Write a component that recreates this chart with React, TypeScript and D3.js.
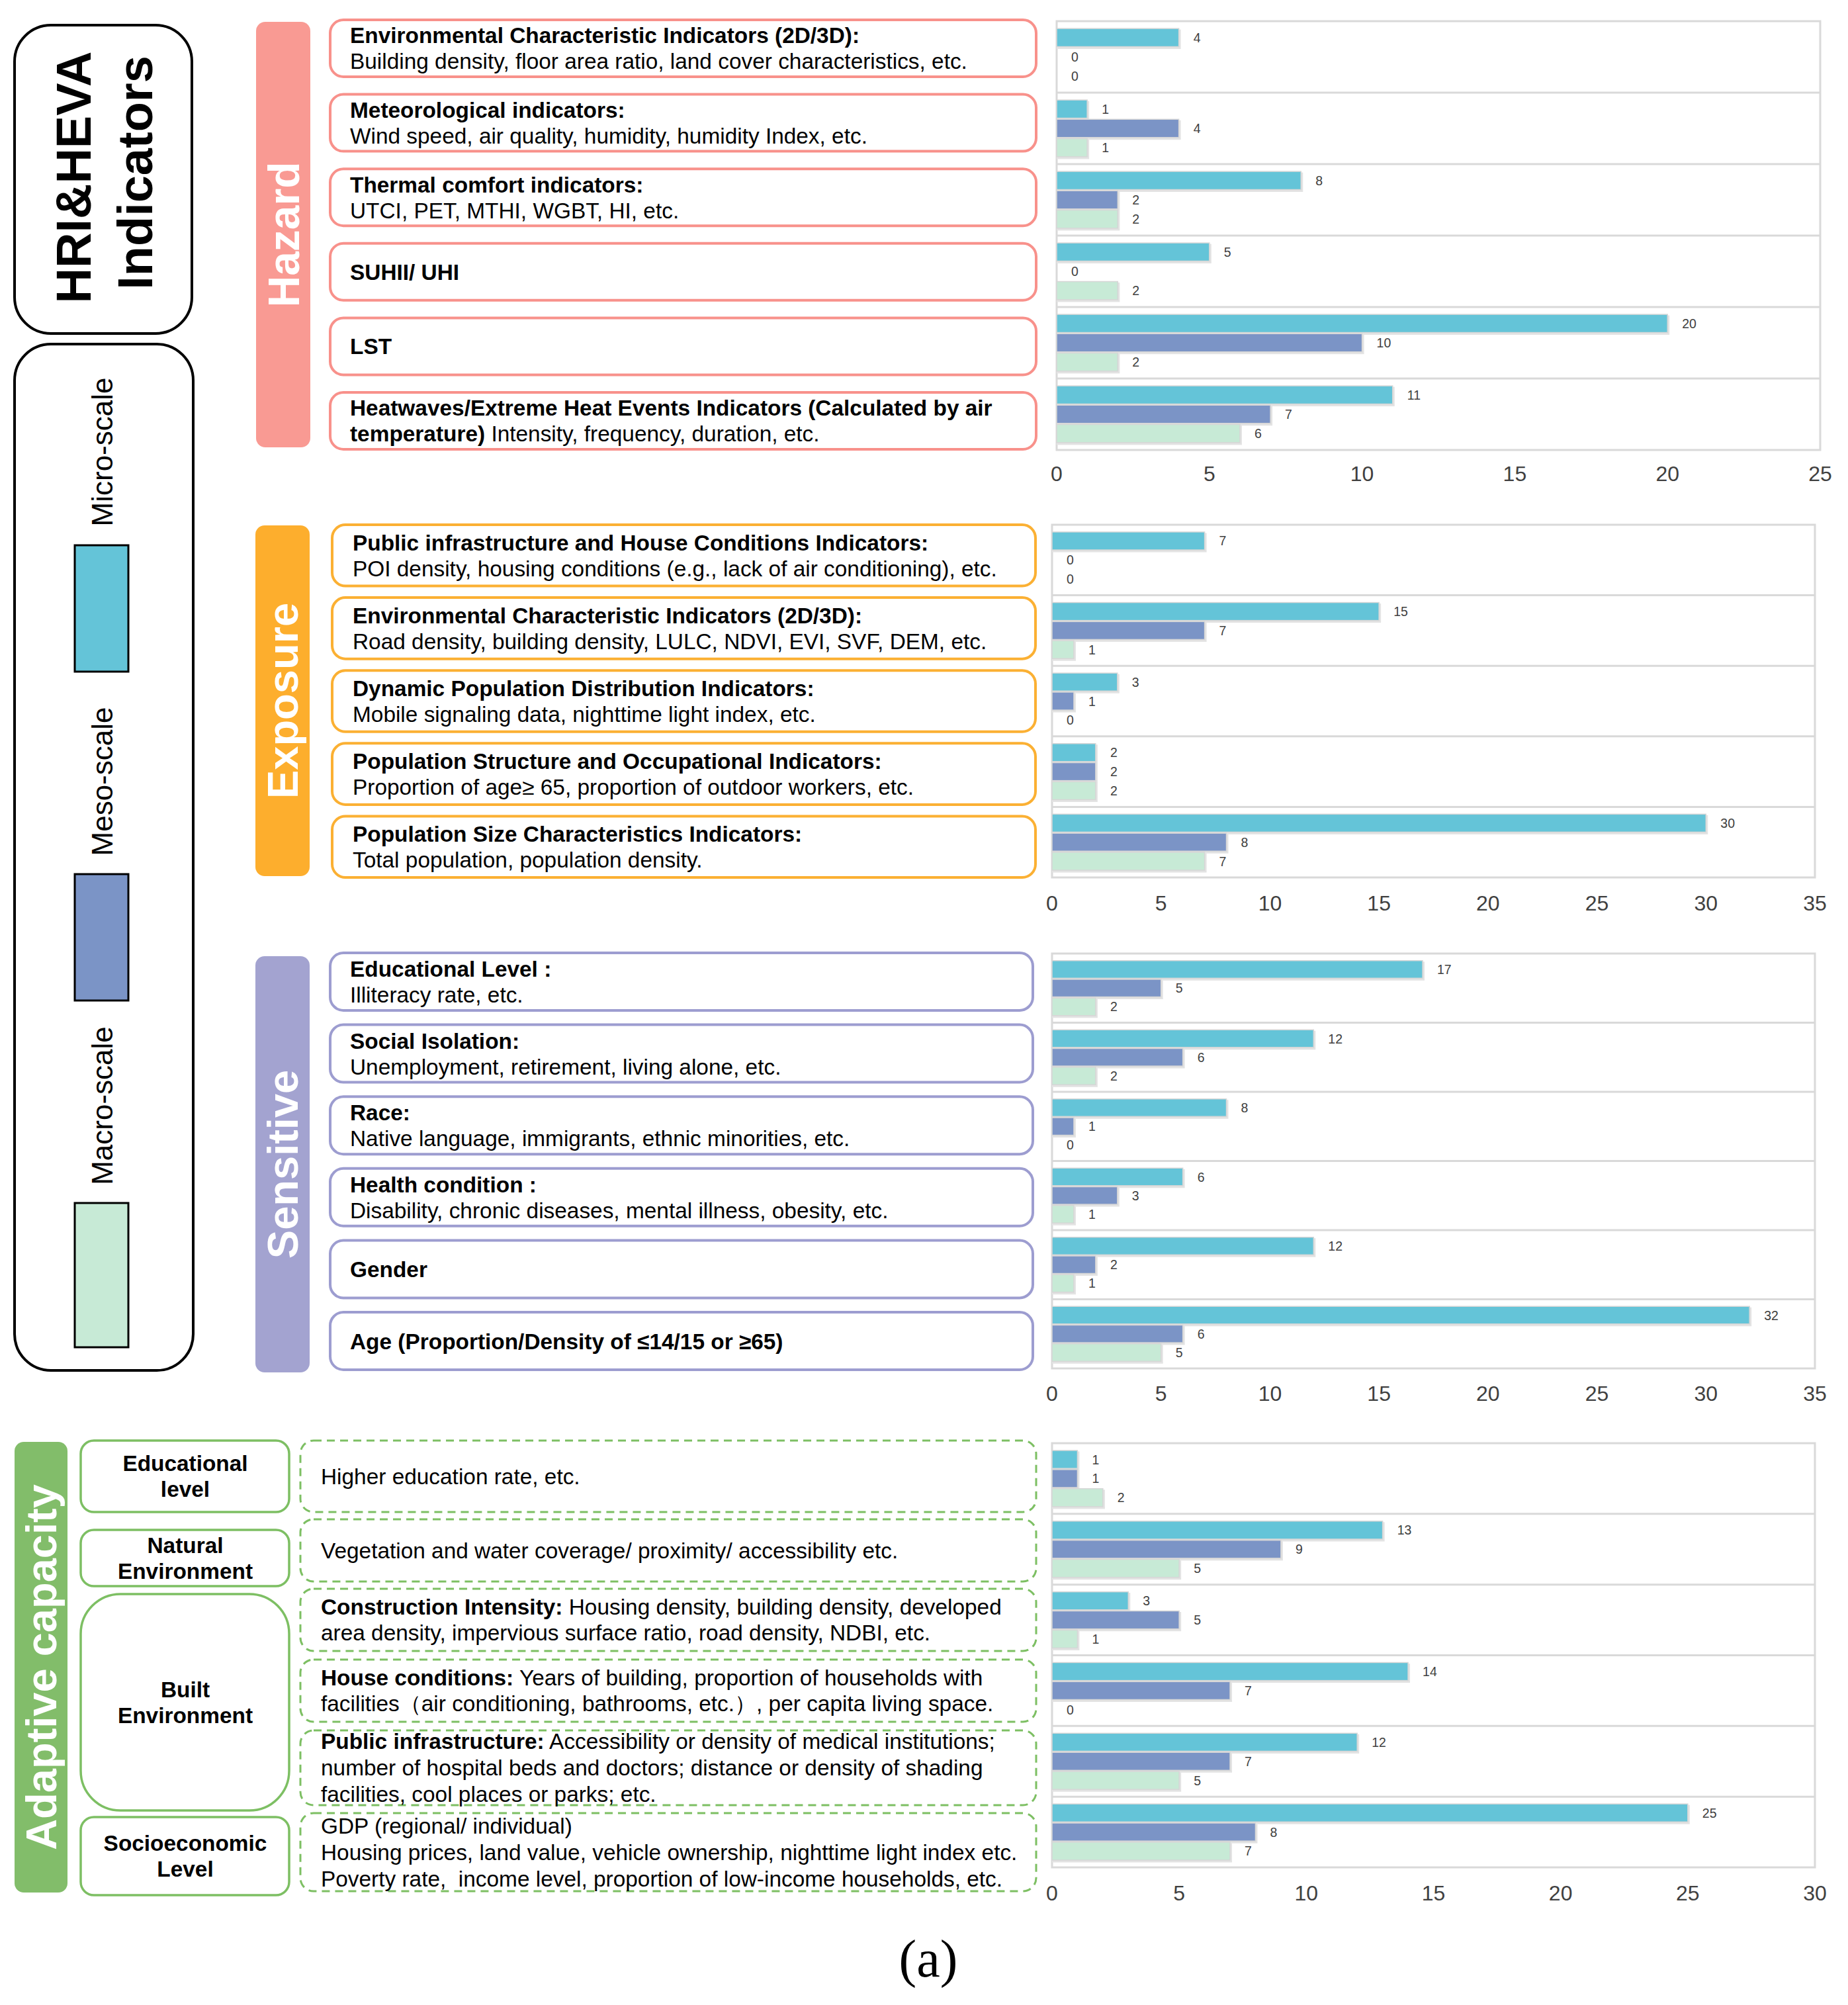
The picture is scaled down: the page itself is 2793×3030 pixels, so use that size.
import React from "react";
import * as d3 from "d3";

// ---------------- DATA ----------------
const seriesNames = ["Micro-scale", "Meso-scale", "Macro-scale"];
const seriesColors = ["#64C4D8", "#7B94C6", "#C7EAD6"];

const hazardMicro = [4, 1, 8, 5, 20, 11];
const hazardMeso = [0, 4, 2, 0, 10, 7];
const hazardMacro = [0, 1, 2, 2, 2, 6];

const exposureMicro = [7, 15, 3, 2, 30];
const exposureMeso = [0, 7, 1, 2, 8];
const exposureMacro = [0, 1, 0, 2, 7];

const sensitiveMicro = [17, 12, 8, 6, 12, 32];
const sensitiveMeso = [5, 6, 1, 3, 2, 6];
const sensitiveMacro = [2, 2, 0, 1, 1, 5];

const adaptiveMicro = [1, 13, 3, 14, 12, 25];
const adaptiveMeso = [1, 9, 5, 7, 7, 8];
const adaptiveMacro = [2, 5, 1, 0, 5, 7];

const hazardMax = 25;
const exposureMax = 35;
const sensitiveMax = 35;
const adaptiveMax = 30;

type Seg = [string, boolean];
type Line = Seg[];

const hazardTexts: Line[][] = [
  [[["Environmental Characteristic Indicators (2D/3D):", true]], [["Building density, floor area ratio, land cover characteristics, etc.", false]]],
  [[["Meteorological indicators:", true]], [["Wind speed, air quality, humidity, humidity Index, etc.", false]]],
  [[["Thermal comfort indicators:", true]], [["UTCI, PET, MTHI, WGBT, HI, etc.", false]]],
  [[["SUHII/ UHI", true]]],
  [[["LST", true]]],
  [[["Heatwaves/Extreme Heat Events Indicators (Calculated by air", true]], [["temperature)", true], [" Intensity, frequency, duration, etc.", false]]],
];

const exposureTexts: Line[][] = [
  [[["Public infrastructure and House Conditions Indicators:", true]], [["POI density, housing conditions (e.g., lack of air conditioning), etc.", false]]],
  [[["Environmental Characteristic Indicators (2D/3D):", true]], [["Road density, building density, LULC, NDVI, EVI, SVF, DEM, etc.", false]]],
  [[["Dynamic Population Distribution Indicators:", true]], [["Mobile signaling data, nighttime light index, etc.", false]]],
  [[["Population Structure and Occupational Indicators:", true]], [["Proportion of age\u2265 65, proportion of outdoor workers, etc.", false]]],
  [[["Population Size Characteristics Indicators:", true]], [["Total population, population density.", false]]],
];

const sensitiveTexts: Line[][] = [
  [[["Educational Level :", true]], [["Illiteracy rate, etc.", false]]],
  [[["Social Isolation:", true]], [["Unemployment, retirement, living alone, etc.", false]]],
  [[["Race:", true]], [["Native language, immigrants, ethnic minorities, etc.", false]]],
  [[["Health condition :", true]], [["Disability, chronic diseases, mental illness, obesity, etc.", false]]],
  [[["Gender", true]]],
  [[["Age (Proportion/Density of \u226414/15 or \u226565)", true]]],
];

const adaptiveCategories = [
  ["Educational", "level"],
  ["Natural", "Environment"],
  ["Built", "Environment"],
  ["Socioeconomic", "Level"],
];

const adaptiveTexts: Line[][] = [
  [[["Higher education rate, etc.", false]]],
  [[["Vegetation and water coverage/ proximity/ accessibility etc.", false]]],
  [[["Construction Intensity:", true], [" Housing density, building density, developed", false]], [["area density, impervious surface ratio, road density, NDBI, etc.", false]]],
  [[["House conditions:", true], [" Years of building, proportion of households with", false]], [["facilities\uFF08air conditioning, bathrooms, etc.\uFF09, per capita living space.", false]]],
  [[["Public infrastructure:", true], [" Accessibility or density of medical institutions;", false]], [["number of hospital beds and doctors; distance or density of shading", false]], [["facilities, cool places or parks; etc.", false]]],
  [[["GDP (regional/ individual)", false]], [["Housing prices, land value, vehicle ownership, nighttime light index etc.", false]], [["Poverty rate,  income level, proportion of low-income households, etc.", false]]],
];

// ---------------- LAYOUT ----------------
const FONT = "'Liberation Sans', Arial, Helvetica, sans-serif";
const TXT = 33.4;
const CAP = 0.716;

const hazardColor = "#F99A93";
const hazardStroke = "#F8918B";
const exposureColor = "#FDAE2D";
const exposureStroke = "#FBB033";
const sensitiveColor = "#A3A3D0";
const sensitiveStroke = "#9D9DD0";
const adaptiveColor = "#82BD6A";
const adaptiveStroke = "#7DBF63";

const adaptiveCatBoxes = [
  [2177, 2285],
  [2312, 2397],
  [2409, 2736],
  [2746, 2864],
];
const adaptiveDashBoxes = [
  [2177, 2285],
  [2296, 2390],
  [2401, 2495],
  [2508, 2602],
  [2615, 2728],
  [2740, 2858],
];

function BoxText({ lines, x, cy, spacing = 39, anchor = "start" }: { lines: Line[]; x: number; cy: number; spacing?: number; anchor?: string }) {
  const cap = CAP * TXT;
  const block = cap + (lines.length - 1) * spacing;
  const first = cy - block / 2 + cap;
  return (
    <g>
      {lines.map((ln, i) => (
        <text key={i} x={x} y={first + i * spacing} fontFamily={FONT} fontSize={TXT} fill="#000" textAnchor={anchor as any} style={{ whiteSpace: "pre" }}>
          {ln.map((s, j) => (
            <tspan key={j} fontWeight={s[1] ? "bold" : "normal"}>{s[0]}</tspan>
          ))}
        </text>
      ))}
    </g>
  );
}

function SectionBar({ x0, x1, y0, y1, color, label, fs }: { x0: number; x1: number; y0: number; y1: number; color: string; label: string; fs: number }) {
  const cx = (x0 + x1) / 2;
  const cy = (y0 + y1) / 2;
  return (
    <g>
      <rect x={x0} y={y0} width={x1 - x0} height={y1 - y0} rx={14} fill={color} />
      <text transform={`translate(${cx + (CAP * fs) / 2},${cy}) rotate(-90)`} textAnchor="middle" fontFamily={FONT} fontWeight="bold" fontSize={fs} fill="#fff">
        {label}
      </text>
    </g>
  );
}

function IndicatorBoxes({ texts, x0, x1, y0, y1, pad, stroke, textX }: { texts: Line[][]; x0: number; x1: number; y0: number; y1: number; pad: number; stroke: string; textX: number }) {
  const band = d3.scaleBand<number>().domain(d3.range(texts.length)).range([y0, y1]).paddingInner(pad);
  return (
    <g>
      {texts.map((t, i) => {
        const by = band(i)!;
        const bh = band.bandwidth();
        return (
          <g key={i}>
            <rect x={x0} y={by} width={x1 - x0} height={bh} rx={20} fill="#fff" stroke={stroke} strokeWidth={4} />
            <BoxText lines={t} x={textX} cy={by + bh / 2} />
          </g>
        );
      })}
    </g>
  );
}

function BarChart({ x0, x1, y0, y1, max, micro, meso, macro, tickY }: { x0: number; x1: number; y0: number; y1: number; max: number; micro: number[]; meso: number[]; macro: number[]; tickY: number }) {
  const x = d3.scaleLinear().domain([0, max]).range([x0, x1]);
  const n = micro.length;
  const rows = d3.scaleBand<number>().domain(d3.range(n)).range([y0, y1]);
  const inner = d3.scaleBand<number>().domain([0, 1, 2]).range([0, rows.bandwidth()]).paddingInner(0.06).paddingOuter(0.38);
  const series = [micro, meso, macro];
  const ticks = d3.range(0, max + 1, 5);
  return (
    <g>
      <rect x={x0} y={y0} width={x1 - x0} height={y1 - y0} fill="#fff" stroke="#d9d9d9" strokeWidth={3} />
      {d3.range(1, n).map((i) => (
        <line key={i} x1={x0} x2={x1} y1={rows(i)!} y2={rows(i)!} stroke="#d9d9d9" strokeWidth={3} />
      ))}
      {d3.range(n).map((i) => (
        <g key={i}>
          {series.map((s, k) => {
            const v = s[i];
            const by = rows(i)! + inner(k)!;
            const bh = inner.bandwidth();
            return (
              <g key={k}>
                {v > 0 && (
                  <>
                    <rect x={x(0)} y={by + 1.5} width={x(v) - x(0) + 3} height={bh + 2} fill="#e3e3e3" />
                    <rect x={x(0)} y={by} width={x(v) - x(0)} height={bh} fill={seriesColors[k]} stroke="#d6d6d6" strokeWidth={1.5} />
                  </>
                )}
                <text x={x(v) + 22} y={by + bh / 2 + 7} fontFamily={FONT} fontSize={19.5} fill="#404040">
                  {v}
                </text>
              </g>
            );
          })}
        </g>
      ))}
      {ticks.map((t) => (
        <text key={t} x={x(t)} y={tickY + 11.5} textAnchor="middle" fontFamily={FONT} fontSize={32} fill="#404040">
          {t}
        </text>
      ))}
    </g>
  );
}

export default function App() {
  const legendSquares = [
    [824, 1015],
    [1321, 1512],
    [1818, 2036],
  ];
  const legendLabelCy = [683, 1181, 1671];
  return (
    <svg width={2793} height={3030} viewBox="0 0 2793 3030" style={{ position: "absolute", left: 0, top: 0, display: "block", background: "#fff" }}>
      <rect x={0} y={0} width={2793} height={3030} fill="#fff" />

      {/* Title box */}
      <rect x={22} y={38} width={268} height={466} rx={55} fill="#fff" stroke="#000" strokeWidth={4} />
      <text transform="translate(137,268) rotate(-90)" textAnchor="middle" fontFamily={FONT} fontWeight="bold" fontSize={74} fill="#000">
        HRI&amp;HEVA
      </text>
      <text transform="translate(230,261) rotate(-90)" textAnchor="middle" fontFamily={FONT} fontWeight="bold" fontSize={74} fill="#000">
        Indicators
      </text>

      {/* Legend box */}
      <rect x={22} y={520} width={270} height={1551} rx={55} fill="#fff" stroke="#000" strokeWidth={4} />
      {seriesNames.map((nm, i) => (
        <g key={nm}>
          <text transform={`translate(170,${legendLabelCy[i]}) rotate(-90)`} textAnchor="middle" fontFamily={FONT} fontSize={44} fill="#000">
            {nm}
          </text>
          <rect x={113} y={legendSquares[i][0]} width={81} height={legendSquares[i][1] - legendSquares[i][0]} fill={seriesColors[i]} stroke="#000" strokeWidth={3} />
        </g>
      ))}

      {/* Hazard */}
      <SectionBar x0={387} x1={469} y0={33} y1={676} color={hazardColor} label="Hazard" fs={66} />
      <IndicatorBoxes texts={hazardTexts} x0={499} x1={1566} y0={30} y1={679} pad={0.236} stroke={hazardStroke} textX={529} />
      <BarChart x0={1597} x1={2751} y0={32} y1={680} max={hazardMax} micro={hazardMicro} meso={hazardMeso} macro={hazardMacro} tickY={715} />

      {/* Exposure */}
      <SectionBar x0={386} x1={468} y0={794} y1={1324} color={exposureColor} label="Exposure" fs={65} />
      <IndicatorBoxes texts={exposureTexts} x0={502} x1={1565} y0={793} y1={1326} pad={0.16} stroke={exposureStroke} textX={533} />
      <BarChart x0={1590} x1={2743} y0={793} y1={1326} max={exposureMax} micro={exposureMicro} meso={exposureMeso} macro={exposureMacro} tickY={1364} />

      {/* Sensitive */}
      <SectionBar x0={386} x1={468} y0={1445} y1={2074} color={sensitiveColor} label="Sensitive" fs={65} />
      <IndicatorBoxes texts={sensitiveTexts} x0={499} x1={1561} y0={1440} y1={2070} pad={0.2} stroke={sensitiveStroke} textX={529} />
      <BarChart x0={1590} x1={2743} y0={1441} y1={2068} max={sensitiveMax} micro={sensitiveMicro} meso={sensitiveMeso} macro={sensitiveMacro} tickY={2105} />

      {/* Adaptive capacity */}
      <SectionBar x0={22} x1={102} y0={2179} y1={2860} color={adaptiveColor} label="Adaptive capacity" fs={65} />
      {adaptiveCategories.map((c, i) => {
        const [t, b] = adaptiveCatBoxes[i];
        return (
          <g key={i}>
            <rect x={122} y={t} width={315} height={b - t} rx={i === 2 ? 60 : 20} fill="#fff" stroke={adaptiveStroke} strokeWidth={3.5} />
            <BoxText lines={c.map((s) => [[s, true] as Seg])} x={280} cy={(t + b) / 2} anchor="middle" />
          </g>
        );
      })}
      {adaptiveTexts.map((lines, i) => {
        const [t, b] = adaptiveDashBoxes[i];
        return (
          <g key={i}>
            <rect x={454} y={t} width={1112} height={b - t} rx={20} fill="none" stroke={adaptiveStroke} strokeWidth={3} strokeDasharray="12 8" />
            <BoxText lines={lines} x={485} cy={(t + b) / 2} spacing={lines.length > 2 ? 40 : 39} />
          </g>
        );
      })}
      <BarChart x0={1590} x1={2743} y0={2181} y1={2822} max={adaptiveMax} micro={adaptiveMicro} meso={adaptiveMeso} macro={adaptiveMacro} tickY={2860} />

      <text x={1403} y={2987} textAnchor="middle" fontFamily="'Liberation Serif', 'Times New Roman', serif" fontSize={80} fill="#000">
        (a)
      </text>
    </svg>
  );
}
